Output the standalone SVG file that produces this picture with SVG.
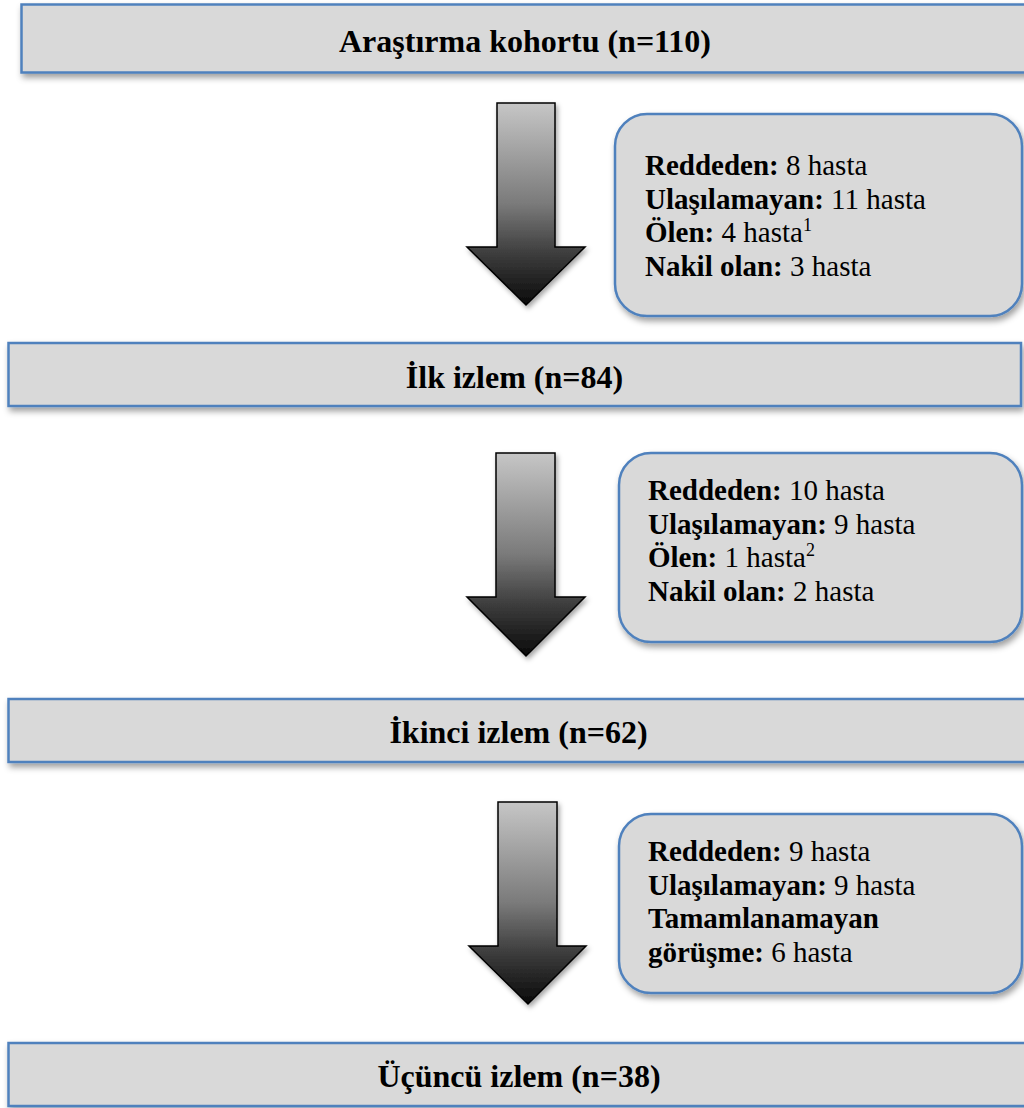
<svg xmlns="http://www.w3.org/2000/svg" width="1024" height="1108" viewBox="0 0 1024 1108">
<defs>
<filter id="sh" x="-5%" y="-20%" width="115%" height="150%">
<feDropShadow dx="2" dy="4" stdDeviation="3" flood-color="#000" flood-opacity="0.38"/>
</filter>
<filter id="ash" x="-20%" y="-10%" width="140%" height="130%">
<feDropShadow dx="2" dy="3" stdDeviation="2.5" flood-color="#000" flood-opacity="0.35"/>
</filter>
<linearGradient id="ag" x1="0" y1="0" x2="0" y2="1">
<stop offset="0" stop-color="#c6c6c6"/>
<stop offset="0.5" stop-color="#7a7a7a"/>
<stop offset="0.75" stop-color="#3c3c3c"/>
<stop offset="1" stop-color="#0a0a0a"/>
</linearGradient>
<style>
.box{fill:#d9d9d9;stroke:#4f81bd;stroke-width:2.5;filter:url(#sh)}
.arrow{fill:url(#ag);stroke:#000;stroke-width:1.5;stroke-linejoin:miter;filter:url(#ash)}
.title{font-family:"Liberation Serif","Times New Roman",serif;font-weight:bold;font-size:32px;fill:#000;text-anchor:middle}
.side{font-family:"Liberation Serif","Times New Roman",serif;font-size:29px;fill:#000}
.b{font-weight:bold}
</style>
</defs>

<g id="connectors">
<polygon class="arrow" points="497,103 555,103 555,247 585,247 526,305 467,247 497,247"/>
<polygon class="arrow" points="496,453 555,453 555,597 585,597 526,656 467,597 496,597"/>
<polygon class="arrow" points="498,802 557,802 557,946 586,946 528,1004 469,946 498,946"/>
</g>

<g id="n1">
<rect class="box" x="21.5" y="4.5" width="1008" height="68"/>
<text class="title" x="525" y="52">Araştırma kohortu (n=110)</text>
</g>

<g id="e1">
<rect class="box" x="615" y="114" width="407" height="202" rx="32" ry="32"/>
<text class="side" x="645" y="175"><tspan class="b">Reddeden:</tspan> 8 hasta</text>
<text class="side" x="645" y="208.5"><tspan class="b">Ulaşılamayan:</tspan> 11 hasta</text>
<text class="side" x="645" y="242"><tspan class="b">Ölen:</tspan> 4 hasta<tspan font-size="18" dy="-11">1</tspan></text>
<text class="side" x="645" y="275.5"><tspan class="b">Nakil olan:</tspan> 3 hasta</text>
</g>

<g id="n2">
<rect class="box" x="8.5" y="343" width="1012.5" height="63"/>
<text class="title" x="514.5" y="387.5">İlk izlem (n=84)</text>
</g>

<g id="e2">
<rect class="box" x="619" y="453" width="403" height="189" rx="32" ry="32"/>
<text class="side" x="648" y="500"><tspan class="b">Reddeden:</tspan> 10 hasta</text>
<text class="side" x="648" y="533.5"><tspan class="b">Ulaşılamayan:</tspan> 9 hasta</text>
<text class="side" x="648" y="567"><tspan class="b">Ölen:</tspan> 1 hasta<tspan font-size="18" dy="-11">2</tspan></text>
<text class="side" x="648" y="600.5"><tspan class="b">Nakil olan:</tspan> 2 hasta</text>
</g>

<g id="n3">
<rect class="box" x="8.5" y="699" width="1020" height="63"/>
<text class="title" x="518.5" y="743">İkinci izlem (n=62)</text>
</g>

<g id="e3">
<rect class="box" x="619" y="814" width="403" height="179" rx="32" ry="32"/>
<text class="side" x="648" y="861"><tspan class="b">Reddeden:</tspan> 9 hasta</text>
<text class="side" x="648" y="894.5"><tspan class="b">Ulaşılamayan:</tspan> 9 hasta</text>
<text class="side" x="648" y="928"><tspan class="b">Tamamlanamayan</tspan></text>
<text class="side" x="648" y="961.5"><tspan class="b">görüşme:</tspan> 6 hasta</text>
</g>

<g id="n4">
<rect class="box" x="8.5" y="1043" width="1020" height="63"/>
<text class="title" x="519" y="1087">Üçüncü izlem (n=38)</text>
</g>
</svg>
